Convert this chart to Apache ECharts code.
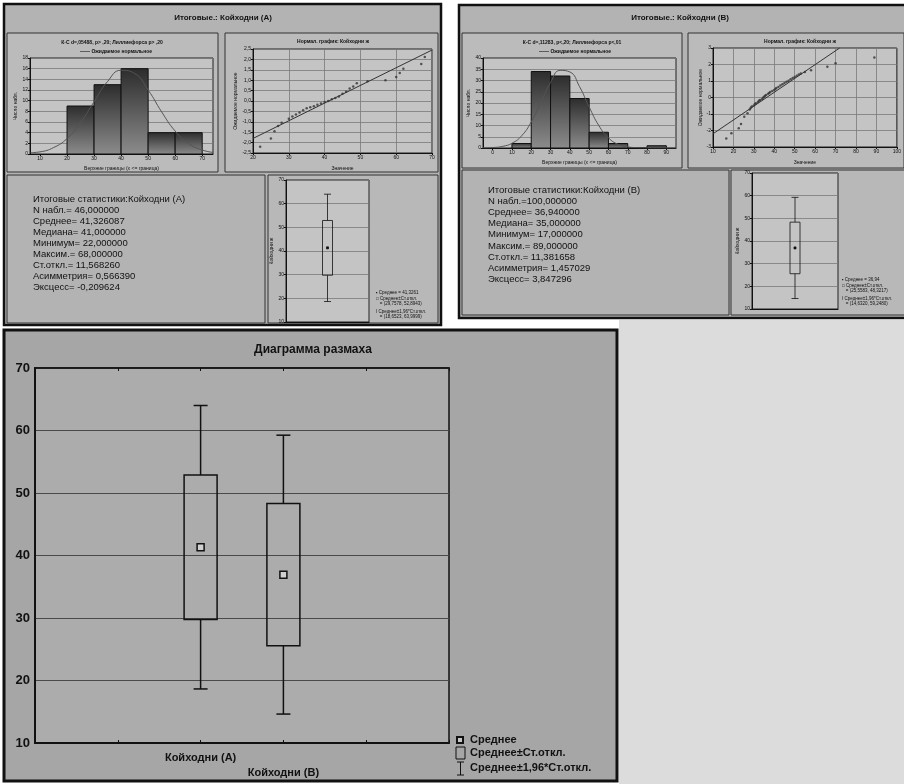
<!DOCTYPE html>
<html><head><meta charset="utf-8">
<script src="https://cdn.jsdelivr.net/npm/echarts@6/dist/echarts.min.js"></script>
<style>html,body{margin:0;padding:0;background:#fff}#c{width:904px;height:784px}</style>
</head><body><div id="c"></div>
<script>
// ---------- data ----------
const histA_from = [20, 30, 40, 50, 60];
const histA_to = [30, 40, 50, 60, 70];
const histA_count = [9, 13, 16, 4, 4];
const histA_curveX = [6.5, 10, 15, 20, 25, 30, 35, 40, 45, 50, 55, 60, 65, 70, 74];
const histA_curveY = [0.25, 0.4, 1.2, 2.9, 5.9, 9.8, 13.6, 15.7, 15.1, 12.0, 7.9, 4.3, 1.95, 0.75, 0.3];
const histA_xTicks = [10, 20, 30, 40, 50, 60, 70];

const histB_from = [10, 20, 30, 40, 50, 60, 70, 80];
const histB_to = [20, 30, 40, 50, 60, 70, 80, 90];
const histB_count = [2, 34, 32, 22, 7, 2, 0, 1];
const histB_curveX = [-5, 0, 5, 10, 15, 20, 25, 30, 35, 40, 45, 50, 55, 60, 65, 70, 75, 80, 85, 90, 95];
const histB_curveY = [0.05, 0.2, 0.7, 2.1, 5.4, 11.6, 20.2, 29.1, 34.5, 33.8, 27.3, 18.2, 10.0, 4.5, 1.6, 0.5, 0.15, 0.05, 0, 0, 0];
const histB_xTicks = [0, 10, 20, 30, 40, 50, 60, 70, 80, 90];

const npA_x = [22, 25, 26, 27, 28, 30, 31, 32, 33, 34, 35, 36, 37, 38, 39, 40, 41, 42, 43, 44, 45, 46, 47, 48, 49, 52, 57, 60, 61, 62, 67, 68];
const npA_y = [-2.2, -1.8, -1.45, -1.2, -1.05, -0.85, -0.75, -0.65, -0.55, -0.45, -0.35, -0.3, -0.25, -0.18, -0.12, -0.05, 0.0, 0.08, 0.15, 0.22, 0.35, 0.45, 0.6, 0.7, 0.85, 0.95, 1.0, 1.15, 1.35, 1.55, 1.78, 2.12];
const npA_lineX = [20, 70];
const npA_lineY = [-1.8, 2.45];

const npB_x = [16.5, 19, 22.6, 23.7, 25.3, 26.9, 28, 28.5, 29, 30, 30.5, 31, 32, 32.5, 33, 34, 34.5, 35, 35.5, 36, 37, 37.5, 38, 39, 40, 40.5, 41, 42, 43, 44, 45, 46, 47, 48, 49, 50, 51, 52, 53, 55, 58, 66, 70, 89];
const npB_y = [-2.48, -2.17, -1.87, -1.6, -1.16, -0.96, -0.72, -0.62, -0.55, -0.48, -0.4, -0.35, -0.28, -0.2, -0.15, -0.1, -0.02, 0.04, 0.1, 0.15, 0.22, 0.28, 0.33, 0.4, 0.46, 0.52, 0.58, 0.64, 0.72, 0.8, 0.88, 0.95, 1.02, 1.1, 1.18, 1.25, 1.32, 1.4, 1.46, 1.55, 1.65, 1.87, 2.07, 2.43];
const npB_lineX = [10, 72];
const npB_lineY = [-2.2, 3.0];

// range plot: mean, mean±SD, mean±1.96*SD
const boxCategories = ['Койходни (А)', 'Койходни (В)'];
const boxPos = [2, 3];
const whiskerLow = [18.65, 14.63];
const boxLow = [29.76, 25.56];
const meanVal = [41.33, 36.94];
const boxHigh = [52.89, 48.32];
const whiskerHigh = [64.0, 59.25];

const statsA = ['Итоговые статистики:Койходни (А)', 'N набл.= 46,000000', 'Среднее= 41,326087', 'Медиана= 41,000000', 'Минимум= 22,000000', 'Максим.= 68,000000', 'Ст.откл.= 11,568260', 'Асимметрия= 0,566390', 'Эксцесс= -0,209624'];
const statsB = ['Итоговые статистики:Койходни (В)', 'N набл.=100,000000', 'Среднее= 36,940000', 'Медиана= 35,000000', 'Минимум= 17,000000', 'Максим.= 89,000000', 'Ст.откл.= 11,381658', 'Асимметрия= 1,457029', 'Эксцесс= 3,847296'];
const legA = ['▪ Среднее = 41,3261', '□ Среднее±Ст.откл.', '   = (29,7578, 52,8943)', 'I Среднее±1,96*Ст.откл.', '   = (18,6523, 63,9999)'];
const legB = ['▪ Среднее = 36,94', '□ Среднее±Ст.откл.', '   = (25,5583, 48,3217)', 'I Среднее±1,96*Ст.откл.', '   = (14,6320, 59,2480)'];
const bigLegend = ['Среднее', 'Среднее±Ст.откл.', 'Среднее±1,96*Ст.откл.'];

// ---------- helpers ----------
const FF = '"Liberation Sans", Arial, sans-serif';
const chart = echarts.init(document.getElementById('c'));
const zip = (a, b) => a.map((v, i) => [v, b[i]]);

function histRender(params, api) {
  const p0 = api.coord([api.value(0), 0]);
  const p1 = api.coord([api.value(1), api.value(2)]);
  return {
    type: 'rect',
    shape: { x: p0[0], y: p1[1], width: p1[0] - p0[0], height: p0[1] - p1[1] },
    style: {
      fill: new echarts.graphic.LinearGradient(0, 0, 0, 1, [{ offset: 0, color: '#2c2c2c' }, { offset: 1, color: '#8c8c8c' }]),
      stroke: '#111', lineWidth: 1
    }
  };
}
function boxRender(boxW, capW, mk, lw, mkFill) {
  return function (params, api) {
    const x = api.value(0);
    const a = api.coord([x, api.value(1)]), b = api.coord([x, api.value(2)]), m = api.coord([x, api.value(3)]),
      c = api.coord([x, api.value(4)]), d = api.coord([x, api.value(5)]);
    const cx = m[0];
    const st = { stroke: '#111', lineWidth: lw, fill: null };
    return {
      type: 'group', children: [
        { type: 'line', shape: { x1: cx, y1: d[1], x2: cx, y2: c[1] }, style: st },
        { type: 'line', shape: { x1: cx, y1: b[1], x2: cx, y2: a[1] }, style: st },
        { type: 'line', shape: { x1: cx - capW / 2, y1: d[1], x2: cx + capW / 2, y2: d[1] }, style: st },
        { type: 'line', shape: { x1: cx - capW / 2, y1: a[1], x2: cx + capW / 2, y2: a[1] }, style: st },
        { type: 'rect', shape: { x: cx - boxW / 2, y: c[1], width: boxW, height: b[1] - c[1] }, style: st },
        { type: 'rect', shape: { x: cx - mk / 2, y: m[1] - mk / 2, width: mk, height: mk }, style: { stroke: '#111', lineWidth: lw, fill: mkFill } }
      ]
    };
  };
}
const tiny = { fontSize: 5, color: '#111', fontFamily: FF, margin: 2 };
const tinyName = { fontSize: 5, color: '#111', fontFamily: FF };
const gridBg = { show: true, backgroundColor: '#c4c4c4', borderColor: '#222', borderWidth: 1 };
const sl = { show: true, lineStyle: { color: '#7a7a7a', width: 0.8 } };
const al = { show: true, onZero: false, lineStyle: { color: '#111', width: 1 } };

const boxData = boxPos.map((p, i) => [p, whiskerLow[i], boxLow[i], meanVal[i], boxHigh[i], whiskerHigh[i]]);
const smallA = [[1, whiskerLow[0], boxLow[0], meanVal[0], boxHigh[0], whiskerHigh[0]]];
const smallB = [[1, whiskerLow[1], boxLow[1], meanVal[1], boxHigh[1], whiskerHigh[1]]];

// ---------- graphic (panels, texts) ----------
const G = [];
function rect(x, y, w, h, fill, stroke, lw, z) { G.push({ type: 'rect', z: z || -10, shape: { x, y, width: w, height: h }, style: { fill, stroke, lineWidth: lw } }); }
function text(t, x, y, font, align, valign, rot) {
  const o = { type: 'text', z: 20, x, y, style: { text: t, font, fill: '#111', textAlign: align || 'left', textVerticalAlign: valign || 'middle' } };
  if (rot) o.rotation = rot;
  G.push(o);
}
rect(619, 320, 285, 464, '#dcdcdc', null, 0, -20);
// panel A
rect(4, 4, 437, 321, '#b3b3b3', '#111', 2.5);
rect(7, 33, 211, 139, '#bbbbbb', '#333', 1, -9);
rect(225, 33, 213, 139, '#bbbbbb', '#333', 1, -9);
rect(7, 175, 258, 148, null, '#333', 1, -9);
rect(268, 175, 170, 148, '#b8b8b8', '#333', 1, -9);
text('Итоговые.: Койходни (А)', 223, 18, 'bold 8px ' + FF, 'center');
text('К-С d=,05488, p> ,20; Лиллиефорса p> ,20', 112, 43, 'bold 5px ' + FF, 'center');
text('—— Ожидаемое нормальное', 116, 52, 'bold 5px ' + FF, 'center');
text('Нормал. график: Койходни ж', 333, 42, 'bold 5px ' + FF, 'center');
statsA.forEach((s, i) => text(s, 33, 199 + i * 11.1, '9.5px ' + FF));
legA.forEach((s, i) => text(s, 376, [293, 299, 304, 312, 317][i], '4.5px ' + FF));
// panel B
rect(459, 5, 447, 313, '#b3b3b3', '#111', 2.5);
rect(462, 33, 220, 135, '#bbbbbb', '#333', 1, -9);
rect(688, 33, 216, 135, '#bbbbbb', '#333', 1, -9);
rect(462, 170, 267, 145, null, '#333', 1, -9);
rect(731, 170, 175, 145, '#b8b8b8', '#333', 1, -9);
text('Итоговые.: Койходни (В)', 680, 18, 'bold 8px ' + FF, 'center');
text('К-С d=,11283, p<,20; Лиллиефорса p<,01', 572, 43, 'bold 5px ' + FF, 'center');
text('—— Ожидаемое нормальное', 575, 52, 'bold 5px ' + FF, 'center');
text('Нормал. график: Койходни ж', 800, 42, 'bold 5px ' + FF, 'center');
statsB.forEach((s, i) => text(s, 488, 190 + i * 11.2, '9.5px ' + FF));
legB.forEach((s, i) => text(s, 842, [280, 286, 291, 299, 304][i], '4.5px ' + FF));
// bottom panel
rect(4, 330, 613, 451, '#a6a6a6', '#111', 3);
text('Диаграмма размаха', 313, 350, 'bold 12px ' + FF, 'center');
G.push({ type: 'rect', z: 20, shape: { x: 457, y: 737, width: 6, height: 6 }, style: { fill: '#c8c8c8', stroke: '#111', lineWidth: 2 } });
G.push({ type: 'rect', z: 20, shape: { x: 456, y: 747, width: 9, height: 12 }, style: { fill: null, stroke: '#111', lineWidth: 1 } });
G.push({ type: 'line', z: 20, shape: { x1: 460.5, y1: 762, x2: 460.5, y2: 775 }, style: { stroke: '#111', lineWidth: 1 } });
G.push({ type: 'line', z: 20, shape: { x1: 457, y1: 762, x2: 464, y2: 762 }, style: { stroke: '#111', lineWidth: 1 } });
G.push({ type: 'line', z: 20, shape: { x1: 457, y1: 775, x2: 464, y2: 775 }, style: { stroke: '#111', lineWidth: 1 } });
bigLegend.forEach((s, i) => text(s, 470, [740, 753, 768][i], 'bold 11px ' + FF));

// ---------- option ----------
const option = {
  animation: false,
  graphic: { elements: G },
  grid: [
    Object.assign({ left: 30, top: 58, width: 183, height: 96 }, gridBg),
    Object.assign({ left: 253, top: 49, width: 179, height: 104 }, gridBg),
    Object.assign({ left: 286, top: 180, width: 83, height: 142 }, gridBg),
    Object.assign({ left: 483, top: 58, width: 193, height: 90 }, gridBg),
    Object.assign({ left: 713, top: 48, width: 187, height: 99 }, gridBg),
    Object.assign({ left: 752, top: 173, width: 86, height: 136 }, gridBg),
    { left: 35, top: 368, width: 414, height: 375, show: true, backgroundColor: '#acacac', borderColor: '#111', borderWidth: 1.5 }
  ],
  xAxis: [
    { gridIndex: 0, type: 'value', min: 6.3, max: 74, axisLine: al, splitLine: { show: false },
      axisTick: { customValues: histA_xTicks, length: 2 }, axisLabel: Object.assign({ customValues: histA_xTicks }, tiny),
      name: 'Верхние границы (x <= граница)', nameLocation: 'middle', nameGap: 12, nameTextStyle: tinyName },
    { gridIndex: 1, type: 'value', min: 20, max: 70, interval: 10, axisLine: al, splitLine: sl, axisTick: { length: 2 }, axisLabel: tiny,
      name: 'Значение', nameLocation: 'middle', nameGap: 13, nameTextStyle: tinyName },
    { gridIndex: 2, type: 'value', min: 0, max: 2, axisLine: al, splitLine: { show: false }, axisTick: { show: false }, axisLabel: { show: false } },
    { gridIndex: 3, type: 'value', min: -5, max: 95, axisLine: al, splitLine: { show: false },
      axisTick: { customValues: histB_xTicks, length: 2 }, axisLabel: Object.assign({ customValues: histB_xTicks }, tiny),
      name: 'Верхние границы (x <= граница)', nameLocation: 'middle', nameGap: 12, nameTextStyle: tinyName },
    { gridIndex: 4, type: 'value', min: 10, max: 100, interval: 10, axisLine: al, splitLine: sl, axisTick: { length: 2 }, axisLabel: tiny,
      name: 'Значение', nameLocation: 'middle', nameGap: 13, nameTextStyle: tinyName },
    { gridIndex: 5, type: 'value', min: 0, max: 2, axisLine: al, splitLine: { show: false }, axisTick: { show: false }, axisLabel: { show: false } },
    { gridIndex: 6, type: 'value', min: 0, max: 5, interval: 1, axisLine: { show: true, onZero: false, lineStyle: { color: '#111', width: 2 } },
      splitLine: { show: false }, axisTick: { inside: true, length: 3, lineStyle: { color: '#111' } },
      axisLabel: { customValues: boxPos, margin: 9, fontSize: 11, fontWeight: 'bold', color: '#111', fontFamily: FF,
        formatter: v => v === boxPos[0] ? boxCategories[0] : '{b|' + boxCategories[1] + '}',
        rich: { b: { fontSize: 11, fontWeight: 'bold', color: '#111', fontFamily: FF, padding: [15, 0, 0, 0] } } } },
    { gridIndex: 6, type: 'value', position: 'top', min: 0, max: 5, interval: 1, axisLine: { show: true, onZero: false, lineStyle: { color: '#111', width: 1.5 } },
      splitLine: { show: false }, axisTick: { inside: true, length: 3, lineStyle: { color: '#111' } }, axisLabel: { show: false } }
  ],
  yAxis: [
    { gridIndex: 0, type: 'value', min: 0, max: 18, interval: 2, axisLine: al, splitLine: sl, axisTick: { length: 2 }, axisLabel: tiny,
      name: 'Число набл.', nameLocation: 'middle', nameGap: 11, nameTextStyle: tinyName },
    { gridIndex: 1, type: 'value', min: -2.5, max: 2.5, interval: 0.5, axisLine: al, splitLine: sl, axisTick: { length: 2 },
      axisLabel: Object.assign({ formatter: v => v.toFixed(1).replace('.', ',') }, tiny),
      name: 'Ожидаемое нормальное', nameLocation: 'middle', nameGap: 14, nameTextStyle: tinyName },
    { gridIndex: 2, type: 'value', min: 10, max: 70, interval: 10, axisLine: al, splitLine: sl, axisTick: { length: 2 }, axisLabel: tiny,
      name: 'Койходни ж', nameLocation: 'middle', nameGap: 11, nameTextStyle: tinyName },
    { gridIndex: 3, type: 'value', min: 0, max: 40, interval: 5, axisLine: al, splitLine: sl, axisTick: { length: 2 }, axisLabel: tiny,
      name: 'Число набл.', nameLocation: 'middle', nameGap: 11, nameTextStyle: tinyName },
    { gridIndex: 4, type: 'value', min: -3, max: 3, interval: 1, axisLine: al, splitLine: sl, axisTick: { length: 2 }, axisLabel: tiny,
      name: 'Ожидаемое нормальное', nameLocation: 'middle', nameGap: 10, nameTextStyle: tinyName },
    { gridIndex: 5, type: 'value', min: 10, max: 70, interval: 10, axisLine: al, splitLine: sl, axisTick: { length: 2 }, axisLabel: tiny,
      name: 'Койходни ж', nameLocation: 'middle', nameGap: 11, nameTextStyle: tinyName },
    { gridIndex: 6, type: 'value', min: 10, max: 70, interval: 10, axisLine: { show: true, onZero: false, lineStyle: { color: '#111', width: 2 } },
      splitLine: { show: true, lineStyle: { color: '#4a4a4a', width: 1 } }, axisTick: { show: false },
      axisLabel: { fontSize: 13, fontWeight: 'bold', color: '#111', fontFamily: FF, margin: 5 } }
  ],
  series: [
    { type: 'custom', xAxisIndex: 0, yAxisIndex: 0, renderItem: histRender, encode: { x: [0, 1], y: 2 },
      data: histA_from.map((f, i) => [f, histA_to[i], histA_count[i]]) },
    { type: 'line', xAxisIndex: 0, yAxisIndex: 0, smooth: true, symbol: 'none', lineStyle: { color: '#555', width: 1 }, data: zip(histA_curveX, histA_curveY), z: 5 },
    { type: 'scatter', xAxisIndex: 1, yAxisIndex: 1, symbol: 'circle', symbolSize: 2.5, itemStyle: { color: '#333' }, data: zip(npA_x, npA_y) },
    { type: 'line', xAxisIndex: 1, yAxisIndex: 1, symbol: 'none', lineStyle: { color: '#333', width: 1 }, data: zip(npA_lineX, npA_lineY) },
    { type: 'custom', xAxisIndex: 2, yAxisIndex: 2, renderItem: boxRender(10, 7, 2, 0.8, '#111'), encode: { x: 0, y: [1, 5] }, data: smallA },
    { type: 'custom', xAxisIndex: 3, yAxisIndex: 3, renderItem: histRender, encode: { x: [0, 1], y: 2 },
      data: histB_from.map((f, i) => [f, histB_to[i], histB_count[i]]) },
    { type: 'line', xAxisIndex: 3, yAxisIndex: 3, smooth: true, symbol: 'none', lineStyle: { color: '#555', width: 1 }, data: zip(histB_curveX, histB_curveY), z: 5 },
    { type: 'scatter', xAxisIndex: 4, yAxisIndex: 4, symbol: 'circle', symbolSize: 2.5, itemStyle: { color: '#333' }, data: zip(npB_x, npB_y) },
    { type: 'line', xAxisIndex: 4, yAxisIndex: 4, symbol: 'none', lineStyle: { color: '#333', width: 1 }, data: zip(npB_lineX, npB_lineY) },
    { type: 'custom', xAxisIndex: 5, yAxisIndex: 5, renderItem: boxRender(10, 7, 2, 0.8, '#111'), encode: { x: 0, y: [1, 5] }, data: smallB },
    { type: 'custom', xAxisIndex: 6, yAxisIndex: 6, renderItem: boxRender(33, 14, 7, 1.5, '#d0d0d0'), encode: { x: 0, y: [1, 5] }, data: boxData }
  ]
};
chart.setOption(option);
</script></body></html>
